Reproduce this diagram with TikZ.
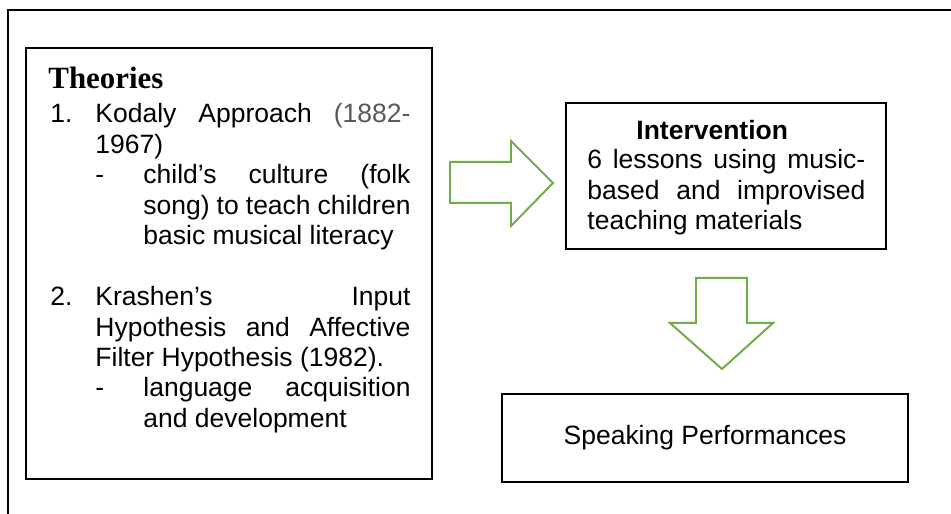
\documentclass[tikz,border=0pt]{standalone}
\usepackage{fontspec}
\setmainfont{Liberation Sans}
\newfontfamily\titlefont{Liberation Serif}
\usetikzlibrary{calc,shapes}

\definecolor{leafgreen}{HTML}{70AD47}
\definecolor{dategray}{HTML}{595959}

\tikzset{
  frame/.style={draw=black,line width=0.9pt},
  panel/.style={draw=black,line width=0.9pt,rectangle,inner sep=0pt},
  blockarrow/.style={draw=leafgreen,line width=0.9pt,fill=white,line join=miter},
  para/.style={inner sep=0pt,anchor=base west,align=justify,
    font=\fontsize{12}{13.8}\selectfont},
  bullet/.style={inner sep=0pt,anchor=base west,font=\fontsize{12}{13.8}\selectfont}
}

\begin{document}
\begin{tikzpicture}[x=0.453pt,y=-0.453pt]
\useasboundingbox (0,0) rectangle (951,514);
\clip (0,0) rectangle (951,514);
\fill[white] (0,0) rectangle (951,514);
% outer frame runs off the page to the right and below
\draw[frame] (8,10.5) rectangle (990,560);

% the three boxes
\node[panel,minimum width=183.9pt,minimum height=195.2pt] (theories) at (229,263.5) {};
\node[panel,minimum width=145pt,minimum height=66.1pt] (intervention) at (726,176) {};
\node[panel,minimum width=183.9pt,minimum height=39.9pt] (speaking) at (705,438)
  {\fontsize{12}{13.8}\selectfont Speaking Performances};

% theories text
\node[inner sep=0pt,anchor=base west,font=\titlefont\bfseries\fontsize{14}{16}\selectfont]
  (theo-title) at (48,89) {Theories};
\node[bullet] (one) at (50,123) {1.};
\node[para,text width=142.7pt] (kodaly) at (95,123)
  {Kodaly Approach {\color{dategray}(1882-}\linebreak 1967)};
\node[bullet] (dash-one) at (95,184) {-};
\node[para,text width=121pt] (kodaly-sub) at (143,184)
  {child’s culture (folk\linebreak song) to teach children\linebreak basic musical literacy};
\node[bullet] (two) at (50,306) {2.};
\node[para,text width=142.7pt] (krashen) at (95,306)
  {Krashen’s Input\linebreak Hypothesis and Affective\linebreak Filter Hypothesis (1982).};
\node[bullet] (dash-two) at (95,397) {-};
\node[para,text width=121pt] (krashen-sub) at (143,397)
  {language acquisition\linebreak and development};

% intervention text
\node[bullet,font=\bfseries\fontsize{12}{13.8}\selectfont] (int-title) at (636,140) {Intervention};
\node[para,text width=125.9pt] (int-body) at (587,169)
  {6 lessons using music-\linebreak based and improvised\linebreak teaching materials};

% block arrows
\draw[blockarrow] (450,162) -- (511,162) -- (511,141) -- (553,183)
  -- (511,226) -- (511,203) -- (450,203) -- cycle;
\draw[blockarrow] (696,278) -- (747,278) -- (747,323) -- (773,323)
  -- (722,369) -- (670,323) -- (696,323) -- cycle;
\end{tikzpicture}
\end{document}
